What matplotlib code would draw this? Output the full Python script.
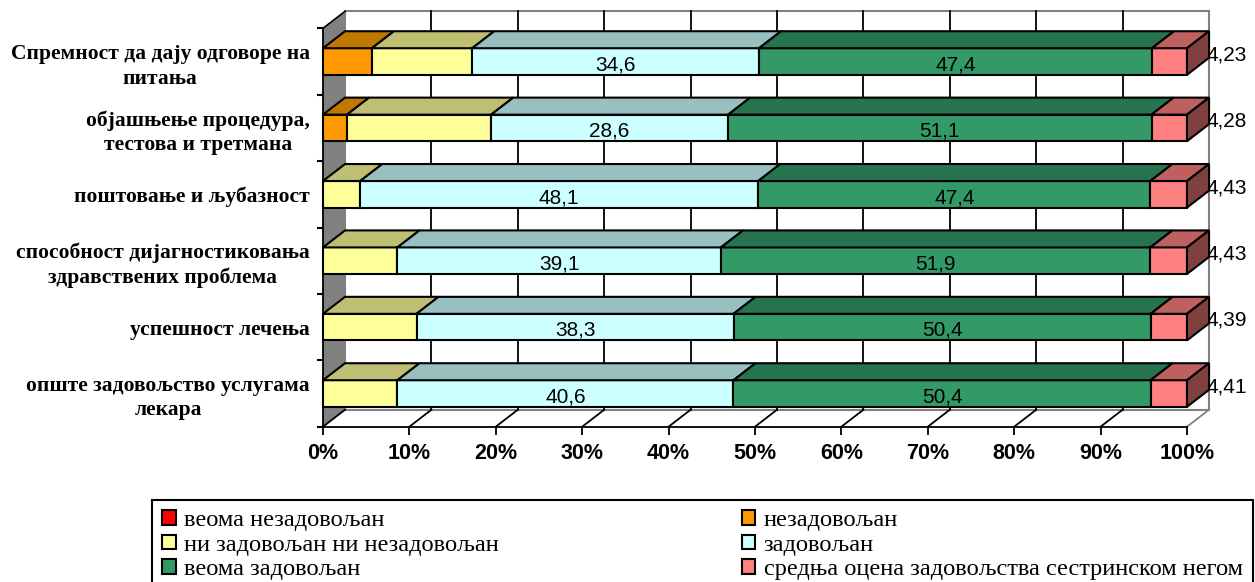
import matplotlib.pyplot as plt
from matplotlib.patches import Polygon, Patch
import numpy as np

categories = [
    'Спремност да дају одговоре на\nпитања',
    'објашњење процедура,\nтестова и третмана',
    'поштовање и љубазност',
    'способност дијагностиковања\nздравствених проблема',
    'успешност лечења',
    'опште задовољство услугама\nлекара',
]
very_dissatisfied = [0, 0, 0, 0, 0, 0]
dissatisfied = [5.9, 2.9, 0, 0, 0, 0]
neutral = [12.1, 17.4, 4.5, 9.0, 11.3, 9.0]
satisfied = [34.6, 28.6, 48.1, 39.1, 38.3, 40.6]
very_satisfied = [47.4, 51.1, 47.4, 51.9, 50.4, 50.4]
mean_score = [4.23, 4.28, 4.43, 4.43, 4.39, 4.41]

series_names = ['веома незадовољан', 'незадовољан', 'ни задовољан ни незадовољан',
                'задовољан', 'веома задовољан', 'средња оцена задовољства сестринском негом']

FRONT = ['#FF0000', '#FF9900', '#FFFF99', '#CCFFFF', '#339966', '#FF8080']
TOP = ['#BF0000', '#C07800', '#BFBF73', '#99C0C0', '#267350', '#BF6060']
SIDE = ['#800000', '#805000', '#80804D', '#668080', '#1A4D33', '#804040']

DX, DY = 2.55, 0.256   # depth offset in data units
BAR_H = 0.4
SANS = 'Liberation Sans'
SERIF = 'Liberation Serif'

fig = plt.figure(figsize=(12.55, 5.82), dpi=100)
ax = fig.add_axes([323 / 1255, 155.3 / 582, 864 / 1255, 398.4 / 582])
ax.set_xlim(0, 100)
ax.set_ylim(-0.5, 5.5)
ax.patch.set_visible(False)

# walls and floor
ax.add_patch(Polygon([(DX, -0.5 + DY), (100 + DX, -0.5 + DY), (100 + DX, 5.5 + DY), (DX, 5.5 + DY)],
                     closed=True, fc='white', ec='#808080', lw=1.5, clip_on=False, zorder=0))
ax.add_patch(Polygon([(0, -0.5), (DX, -0.5 + DY), (DX, 5.5 + DY), (0, 5.5)],
                     closed=True, fc='#808080', ec='none', clip_on=False, zorder=0.5))
ax.plot([0, DX], [5.5, 5.5 + DY], color='black', lw=1.2, clip_on=False, zorder=0.6)
for x in range(10, 100, 10):
    ax.plot([x + DX, x + DX], [-0.5 + DY, 5.5 + DY], color='black', lw=1.3, clip_on=False, zorder=1)
for x in range(0, 101, 10):
    ax.plot([x, x + DX], [-0.5, -0.5 + DY], color='#808080' if x == 100 else 'black',
            lw=1.3, clip_on=False, zorder=1)

# stacked 3D bars (100% stacked, mean score included as a segment)
ypos = np.arange(len(categories))[::-1]
rows = np.array([very_dissatisfied, dissatisfied, neutral, satisfied, very_satisfied, mean_score])
shares = rows / rows.sum(axis=0) * 100

for i, y in enumerate(ypos):
    left = 0
    y0, y1 = y - BAR_H / 2, y + BAR_H / 2
    last = 0
    for k in range(len(rows)):
        w = shares[k, i]
        if w <= 0:
            continue
        x0, x1 = left, left + w
        ax.add_patch(Polygon([(x0, y0), (x1, y0), (x1, y1), (x0, y1)], closed=True,
                             fc=FRONT[k], ec='black', lw=1.5, clip_on=False, zorder=3))
        ax.add_patch(Polygon([(x0, y1), (x1, y1), (x1 + DX, y1 + DY), (x0 + DX, y1 + DY)], closed=True,
                             fc=TOP[k], ec='black', lw=1.5, clip_on=False, zorder=3))
        if k in (3, 4):
            ax.text((x0 + x1) / 2, y - 0.05, f'{rows[k, i]:.1f}'.replace('.', ','),
                    ha='center', va='center', fontsize=15, family=SANS, zorder=6)
        left = x1
        last = k
    ax.add_patch(Polygon([(left, y0), (left, y1), (left + DX, y1 + DY), (left + DX, y0 + DY)], closed=True,
                         fc=SIDE[last], ec='black', lw=1.5, clip_on=False, zorder=3))
    ax.text(100 + DX + 2.0, y + 0.1, f'{mean_score[i]:.2f}'.replace('.', ','),
            ha='center', va='center', fontsize=15, family=SANS, zorder=2, clip_on=False)

# axes
for side in ('top', 'right'):
    ax.spines[side].set_visible(False)
for side in ('left', 'bottom'):
    ax.spines[side].set_linewidth(1.3)
    ax.spines[side].set_zorder(2)

ax.set_xticks(np.arange(0, 101, 10))
ax.set_xticklabels([f'{v}%' for v in range(0, 101, 10)], fontsize=15.5, fontweight='bold', family=SANS)
ax.tick_params(axis='x', length=6, width=1.3, pad=6)

ax.set_yticks(ypos)
ax.set_yticklabels(categories, fontsize=15.5, fontweight='bold', family=SERIF, linespacing=1.3)
for lbl in ax.get_yticklabels():
    lbl.set_multialignment('center')
ax.set_yticks(np.arange(-0.5, 6, 1), minor=True)
ax.tick_params(axis='y', which='major', length=0, pad=9.5)
ax.tick_params(axis='y', which='minor', length=4, width=1.5)

# legend
order = [0, 2, 4, 1, 3, 5]
handles = [Patch(fc=FRONT[k], ec='black', lw=1.5) for k in order]
labels = [series_names[k] for k in order]
leg = fig.legend(handles, labels, ncol=2, mode='expand', loc='upper left',
                 bbox_to_anchor=(152 / 1255, 0, 1101 / 1255, 82 / 582), borderaxespad=0,
                 prop={'family': SERIF, 'size': 17.6}, handlelength=0.55, handleheight=0.55,
                 handletextpad=0.35, labelspacing=0.14, borderpad=0.42,
                 fancybox=False, edgecolor='black', framealpha=1)
leg.get_frame().set_linewidth(1.5)

plt.savefig('out.png', dpi=100)
